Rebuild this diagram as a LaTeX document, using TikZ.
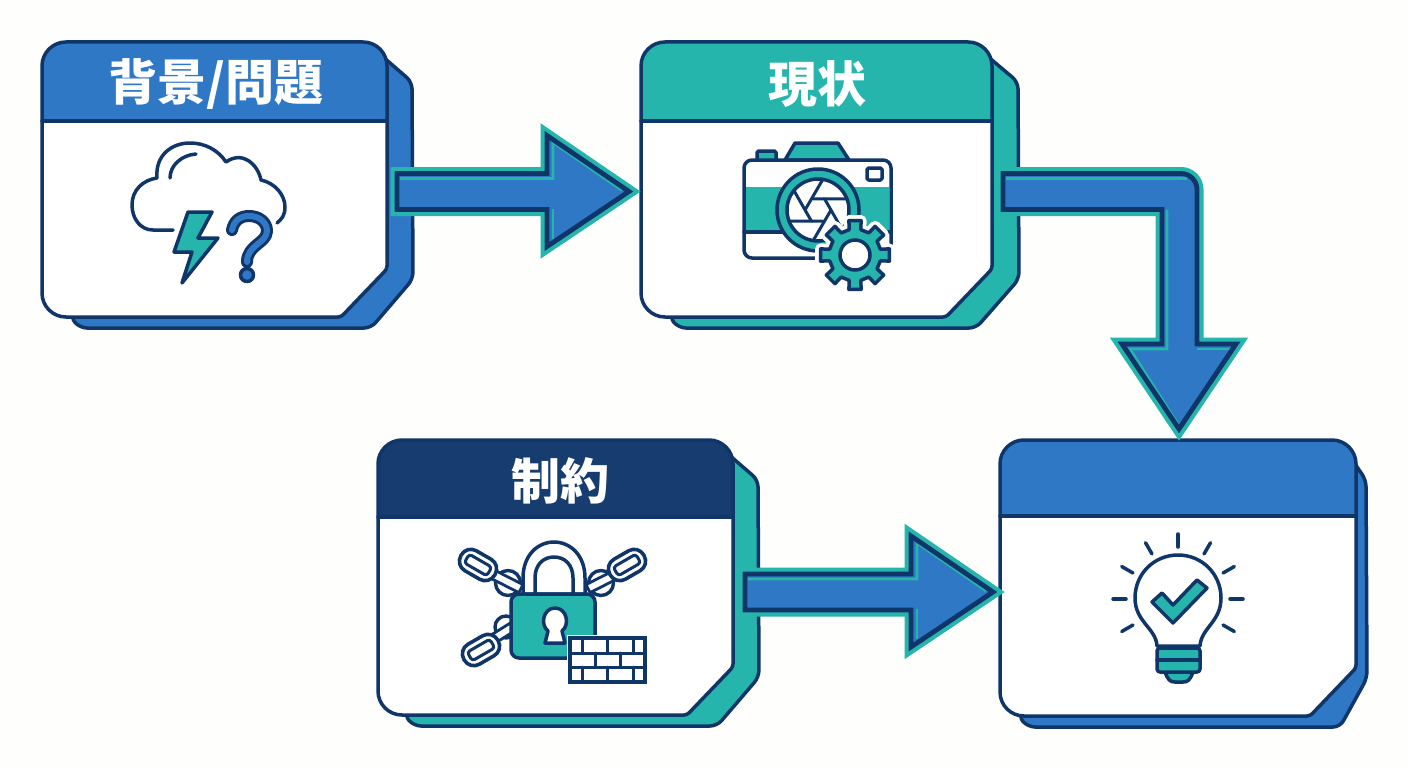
\documentclass[tikz,border=0pt]{standalone}
\usepackage{fontspec}
\usetikzlibrary{calc,fit}
\newfontfamily\cjkfont{Noto Sans CJK JP}
\definecolor{cblue}{HTML}{2E78C6}
\definecolor{cnavy}{HTML}{103568}
\definecolor{cdeep}{HTML}{163C70}
\definecolor{cteal}{HTML}{25B5AD}
\definecolor{cpaper}{HTML}{FEFEFC}
\tikzset{
  ink/.style={draw=cnavy,line width=3.5pt,line join=round,line cap=round},
  thinink/.style={draw=cnavy,line width=3pt,line join=round,line cap=round},
  title/.style={font=\cjkfont\bfseries\fontsize{49}{49}\selectfont,text=white,inner sep=0pt},
  cardframe/.style={inner sep=0pt,outer sep=0pt},
  arrowhalo/.style={draw=cteal,line width=13pt,line join=miter,miter limit=20},
  arrowcore/.style={draw=cnavy,line width=4.8pt,line join=miter,miter limit=20},
  arrowfill/.style={fill=cblue},
  arrowshine/.style={draw=cteal,line width=2.6pt},
}
\newcommand{\backinset}{38}
\newcommand{\drawcard}[9]{%
  % back plate
  \draw[ink,fill=#8,rounded corners=7pt] ({#3-12},{#4+8}) -- ({#9-1},{#4+40}) -- ({#9},{#5-38}) -- ({#3-16},{#5+11}) -- ({#2+\backinset},{#5+11}) -- ({#2+\backinset-10},{#5}) -- cycle;
  % front plate
  \path[fill=white] ({#2+60},#5) [rounded corners=24pt] -- (#2,#5) -- (#2,#4) -- (#3,#4) [rounded corners=3pt] -- (#3,{#5-48}) -- ({#3-46},#5) [sharp corners] -- cycle;
  \begin{scope}
    \clip ({#2+60},#5) [rounded corners=24pt] -- (#2,#5) -- (#2,#4) -- (#3,#4) [rounded corners=3pt] -- (#3,{#5-48}) -- ({#3-46},#5) [sharp corners] -- cycle;
    \fill[#7] (#2,#4) rectangle (#3,#6);
  \end{scope}
  \draw[ink] (#2,#6) -- (#3,#6);
  \draw[ink] ({#2+60},#5) [rounded corners=24pt] -- (#2,#5) -- (#2,#4) -- (#3,#4) [rounded corners=3pt] -- (#3,{#5-48}) -- ({#3-46},#5) [sharp corners] -- cycle;
  \node[cardframe,fit={(#2,#4) (#3,#5)}] (#1) {};
}
% horizontal block arrow, from start coordinate to tip coordinate
\newcommand{\blockarrow}[2]{%
  \def\apath{($(#1)+(0,-18)$) -- ($(#2)+(-82,-18)$) -- ($(#2)+(-82,-56)$) -- (#2) -- ($(#2)+(-82,55)$) -- ($(#2)+(-82,18)$) -- ($(#1)+(0,18)$) -- cycle}%
  \draw[arrowhalo] \apath;
  \fill[arrowfill] \apath;
  \draw[arrowshine] ($(#1)+(3,-13)$) -- ($(#2)+(-76,-13)$) -- ($(#2)+(-76,-49)$) -- ($(#2)+(-7,-1)$);
  \draw[arrowshine] ($(#2)+(-76,17)$) -- ($(#2)+(-76,47)$);
  \draw[arrowcore] \apath;
}
\newcommand{\chainlink}[5]{% x y rot length width
  \begin{scope}[shift={(#1,#2)},rotate=#3]
    \draw[draw=cnavy,line width=3.6pt,fill=white,rounded corners={(#5)/2-0.5}] ({-(#4)/2},{-(#5)/2}) rectangle ({(#4)/2},{(#5)/2});
    \draw[draw=cnavy,line width=3pt,fill=white,rounded corners=3pt] ({-(#4)/2+6.5},{-(#5)/2+6.5}) rectangle ({(#4)/2-6.5},{(#5)/2-6.5});
  \end{scope}
}
\newcommand{\chainbar}[4]{% x y rot length
  \begin{scope}[shift={(#1,#2)},rotate=#3]
    \draw[draw=cnavy,line width=2.8pt,fill=white] ({-(#4)/2},-4.5) rectangle ({(#4)/2},4.5);
  \end{scope}
}
\begin{document}
\begin{tikzpicture}[x=1pt,y=-1pt]
\useasboundingbox (0,0) rectangle (1408,768);
\fill[cpaper] (0,0) rectangle (1408,768);

% ---- cards
\drawcard{bg}{42}{387}{42}{317}{121}{cblue}{cblue}{413}
\drawcard{now}{641}{992}{42}{317}{121}{cteal}{cteal}{1019}
\renewcommand{\backinset}{36}
\drawcard{limit}{378}{733}{440}{715}{517}{cdeep}{cteal}{759}
\renewcommand{\backinset}{28}
\drawcard{goal}{1000}{1356}{440}{716}{516}{cblue}{cblue}{1367}

\node[title] (bgtitle) at (216,84) {背景/問題};
\node[title] (nowtitle) at (817,84) {現状};
\node[title] (limittitle) at (560,481) {制約};

% ---- connectors
\coordinate (a1s) at ($(bg.east)+(10,12)$);
\coordinate (a1t) at ($(now.west)+(-12,12)$);
\blockarrow{a1s}{a1t}
\coordinate (a3s) at ($(limit.east)+(12,14.5)$);
\coordinate (a3t) at ($(goal.west)+(-7,14)$);
\blockarrow{a3s}{a3t}

\coordinate (a2s) at ($(now.east)+(11,12)$);
\coordinate (a2t) at ($(goal.north)+(1,-11)$);
\def\bentpath{($(a2s)+(0,-18)$) [rounded corners=16pt] -- ($(a2t)+(18,-255.5)$) [sharp corners] -- ($(a2t)+(18,-85)$) -- ($(a2t)+(57,-85)$) -- (a2t) -- ($(a2t)+(-57,-85)$) -- ($(a2t)+(-17,-85)$) -- ($(a2t)+(-17,-219.5)$) -- ($(a2s)+(0,18)$) -- cycle}
\draw[arrowhalo] \bentpath;
\fill[arrowfill] \bentpath;
\draw[arrowshine] ($(a2s)+(3,-13)$) -- ($(a2t)+(8,-250.5)$);
\draw[arrowshine] ($(a2t)+(-12,-219.5)$) -- ($(a2t)+(-12,-80)$) -- ($(a2t)+(-49,-80)$) -- ($(a2t)+(-1,-5)$);
\draw[arrowshine] ($(a2t)+(18,-80)$) -- ($(a2t)+(51,-80)$);
\draw[arrowcore] \bentpath;

% ---- icon: cloud
\draw[ink] (173,230) -- (153,230) .. controls (140,230) and (132,218) .. (132,205) .. controls (132,190) and (143,180) .. (157,178) .. controls (155,155) and (172,143) .. (190,143) .. controls (205,143) and (218,150) .. (226,162) .. controls (243,150) and (258,165) .. (261,180) .. controls (275,183) and (285,195) .. (285,207) .. controls (285,215) and (282,219) .. (277,223);
\draw[ink] (170,178) .. controls (170,165) and (182,155) .. (196,154);
\draw[ink,fill=cteal] (188,212) -- (212,212) -- (198,238) -- (218,238) -- (182,283) -- (192,252) -- (174,252) -- cycle;
\draw[draw=cnavy,line width=12pt,line cap=round,line join=round] (232,230) .. controls (234,220) and (241,216) .. (249,216) .. controls (259,216) and (267,222) .. (267,231) .. controls (267,243) and (247,245) .. (247,262);
\draw[draw=cblue,line width=6pt,line cap=round,line join=round] (232,230) .. controls (234,220) and (241,216) .. (249,216) .. controls (259,216) and (267,222) .. (267,231) .. controls (267,243) and (247,245) .. (247,262);
\draw[ink,fill=cblue] (247,275) circle (6.5);

% ---- icon: camera
\draw[ink,fill=cteal] (785,160) -- (795,143) -- (838,143) -- (849,160) -- cycle;
\draw[ink,fill=cteal,rounded corners=1.5pt] (757,160) -- (757,151) -- (776,151) -- (776,160);
\draw[ink,fill=white,rounded corners=8pt] (744,160) rectangle (891,258);
\fill[cteal] (746,187) rectangle (889,231);
\draw[ink] (744,232) -- (891,232);
\draw[ink,fill=white,rounded corners=1.5pt] (867,168) rectangle (882,180);
\draw[ink,fill=cteal] (818,210) circle (41);
\draw[ink,fill=white] (818,210) circle (31);
\foreach \a in {0,60,...,300}{\draw[thinink] (818,210) ++(\a:13) -- ($(818,210)+(\a+99:31)$);}
\begin{scope}[shift={(855,255)}]
  \draw[draw=cpaper,fill=cpaper,line width=11pt,line join=round]
    (-13:26) \foreach \b in {0,45,...,315}{ -- ({\b-13}:26) -- ({\b-10}:35) -- ({\b+10}:35) -- ({\b+13}:26)} -- cycle;
  \draw[ink,fill=cteal]
    (-13:26) \foreach \b in {0,45,...,315}{ -- ({\b-13}:26) -- ({\b-10}:35) -- ({\b+10}:35) -- ({\b+13}:26)} -- cycle;
  \draw[ink,fill=white] (0,0) circle (15);
\end{scope}

% ---- icon: lock and chains
\draw[draw=cnavy,line width=3.4pt,fill=white] (508,583) circle (12.5);
\draw[draw=cnavy,line width=3.4pt,fill=white] (601,583) circle (12.5);
\draw[draw=cnavy,line width=3.4pt,fill=white] (506,627) circle (11);
\chainbar{504}{580}{-27}{38}
\chainbar{605}{580}{27}{38}
\chainbar{498}{636}{32}{34}
\chainlink{478}{565}{-30}{39}{23}
\chainlink{627}{565}{30}{39}{23}
\chainlink{481}{650}{30}{39}{23}
\draw[ink,fill=white] (523,594) -- (523,578) .. controls (523,555) and (538,542) .. (554,542) .. controls (570,542) and (585,555) .. (585,578) -- (585,594) -- cycle;
\draw[ink,fill=white] (535,594) -- (535,578) .. controls (535,565) and (543,557) .. (554,557) .. controls (565,557) and (573,565) .. (573,578) -- (573,594) -- cycle;
\draw[ink,fill=cteal,rounded corners=8pt] (511,594) rectangle (595,658);
\draw[ink,fill=white] (548,631) .. controls (540,625) and (543,608) .. (555,608) .. controls (567,608) and (570,625) .. (562,631) -- (565,643) -- (545,643) -- cycle;
\draw[draw=cpaper,line width=7pt] (570,638) rectangle (645,682);
\draw[ink,fill=white,line join=miter] (570,638) rectangle (645,682);
\draw[thinink] (570,653) -- (645,653) (570,667) -- (645,667)
  (582,638) -- (582,653) (607,638) -- (607,653) (633,638) -- (633,653)
  (595,653) -- (595,667) (620,653) -- (620,667)
  (582,667) -- (582,682) (607,667) -- (607,682) (633,667) -- (633,682);

% ---- icon: bulb
\foreach \a in {30,0,-30,-60,-90,-120,-150,180,150}{\draw[ink] ($(1178,599)+(\a:52)$) -- ($(1178,599)+(\a:65)$);}
\draw[ink,fill=white] (1157,646) .. controls (1156,628) and (1135,622) .. (1135,598) .. controls (1135,574) and (1154,555) .. (1178,555) .. controls (1202,555) and (1221,574) .. (1221,598) .. controls (1221,622) and (1201,628) .. (1200,646) -- cycle;
\draw[ink,fill=cteal] (1152,602) -- (1162,593) -- (1173,605) -- (1197,580) -- (1207,588) -- (1173,623) -- cycle;
\draw[ink,fill=cteal] (1165,672) .. controls (1168,680) and (1170,682) .. (1175,682) -- (1183,682) .. controls (1188,682) and (1190,680) .. (1193,672) -- cycle;
\draw[ink,fill=cteal,rounded corners=3pt] (1157,648) rectangle (1200,672);
\draw[ink] (1157,660) -- (1200,660);
\end{tikzpicture}
\end{document}
